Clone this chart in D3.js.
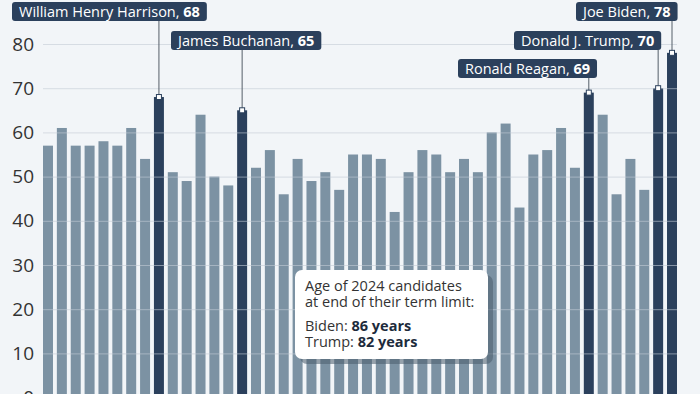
<!DOCTYPE html>
<html><head><meta charset="utf-8">
<script src="https://cdn.jsdelivr.net/npm/d3@7"></script>
<style>
html,body{margin:0;padding:0;background:#f2f5f8;}
svg{display:block;font-family:"Open Sans",sans-serif;}
</style></head>
<body>
<svg id="c" width="700" height="394"></svg>
<script>
const presidents = ["George Washington","John Adams","Thomas Jefferson","James Madison","James Monroe","John Quincy Adams","Andrew Jackson","Martin Van Buren","William Henry Harrison","John Tyler","James K. Polk","Zachary Taylor","Millard Fillmore","Franklin Pierce","James Buchanan","Abraham Lincoln","Andrew Johnson","Ulysses S. Grant","Rutherford B. Hayes","James A. Garfield","Chester A. Arthur","Grover Cleveland","Benjamin Harrison","Grover Cleveland (2)","William McKinley","Theodore Roosevelt","William Howard Taft","Woodrow Wilson","Warren G. Harding","Calvin Coolidge","Herbert Hoover","Franklin D. Roosevelt","Harry S. Truman","Dwight D. Eisenhower","John F. Kennedy","Lyndon B. Johnson","Richard Nixon","Gerald Ford","Jimmy Carter","Ronald Reagan","George H. W. Bush","Bill Clinton","George W. Bush","Barack Obama","Donald J. Trump","Joe Biden"];
const ages = [57,61,57,57,58,57,61,54,68,51,49,64,50,48,65,52,56,46,54,49,51,47,55,55,54,42,51,56,55,51,54,51,60,62,43,55,56,61,52,69,64,46,54,47,70,78];
const highlighted = ["William Henry Harrison","James Buchanan","Ronald Reagan","Donald J. Trump","Joe Biden"];
const yTicks = [0,10,20,30,40,50,60,70,80];
const calloutTitle = ["Age of 2024 candidates","at end of their term limit:"];
const calloutNames = ["Biden: ","Trump: "];
const calloutValues = ["86 years","82 years"];

// layout (not data)
const labelLayout = {
  "William Henry Harrison": {row:0, left:12},
  "James Buchanan": {row:1, left:171},
  "Ronald Reagan": {row:2, left:458},
  "Donald J. Trump": {row:1, left:514},
  "Joe Biden": {row:0, left:576}
};

const svg = d3.select("#c");
const x = d3.scaleBand().domain(presidents).range([43,677]).paddingInner(0.28).paddingOuter(0);
const y = d3.scaleLinear().domain([0,80]).range([397.6,44]);

// bars
svg.append("g").selectAll("rect").data(presidents).join("rect")
  .attr("x", d=>x(d)).attr("width", x.bandwidth())
  .attr("y", (d,i)=>y(ages[i])).attr("height",(d,i)=>y(0)-y(ages[i]))
  .attr("fill", d=> highlighted.includes(d) ? "#2b405c" : "#7c92a3");

// grid (drawn over bars, semi-transparent)
const yAxis = d3.axisLeft(y).tickValues(yTicks).tickSize(-(677-43)).tickPadding(9);
const ga = svg.append("g").attr("transform","translate(43,0)").call(yAxis);
ga.select(".domain").remove();
ga.selectAll(".tick line").attr("stroke","#c3ccd5").attr("stroke-opacity",0.6).attr("stroke-width",1);
ga.selectAll(".tick text").attr("fill","#333").attr("font-size","19px").attr("font-family","Open Sans, sans-serif");

// annotations
const rowY = [2,31,59];
const ann = svg.append("g");
highlighted.forEach(name=>{
  const i = presidents.indexOf(name);
  const cx = x(name) + x.bandwidth()/2;
  const top = y(ages[i]);
  const L = labelLayout[name];
  const by = rowY[L.row];
  const g = ann.append("g");
  g.append("line").attr("x1",cx).attr("x2",cx).attr("y1",by+19).attr("y2",top)
    .attr("stroke","#555e68").attr("stroke-width",1);
  const rect = g.append("rect").attr("y",by).attr("height",19).attr("rx",3).attr("fill","#2b405c");
  const t = g.append("text").attr("y",by+15).attr("x",L.left+7).attr("fill","#fff").attr("font-size","14.5px");
  t.append("tspan").text(name+", ");
  t.append("tspan").attr("font-weight","bold").text(ages[i]);
  const w = t.node().getComputedTextLength();
  rect.attr("x",L.left).attr("width",w+14);
  g.append("rect").attr("x",cx-2.5).attr("y",top-2.5).attr("width",5).attr("height",5)
    .attr("fill","#fff").attr("stroke","#2b405c").attr("stroke-width",1);
});

// callout
const cb = svg.append("g");
cb.append("rect").attr("x",300).attr("y",275).attr("width",193).attr("height",89).attr("rx",7).attr("fill","#4a5d6e").attr("opacity",0.55);
cb.append("rect").attr("x",295).attr("y",270).attr("width",193).attr("height",89).attr("rx",7).attr("fill","#fff");
calloutTitle.forEach((s,k)=>{
  cb.append("text").attr("x",305).attr("y",291+k*16).attr("font-size","14.5px").attr("fill","#333").text(s);
});
calloutNames.forEach((s,k)=>{
  const t = cb.append("text").attr("x",305).attr("y",331+k*16).attr("font-size","14.5px").attr("fill","#333");
  t.append("tspan").text(s);
  t.append("tspan").attr("font-weight","bold").attr("fill","#1d2b3c").text(calloutValues[k]);
});
</script>
</body></html>
